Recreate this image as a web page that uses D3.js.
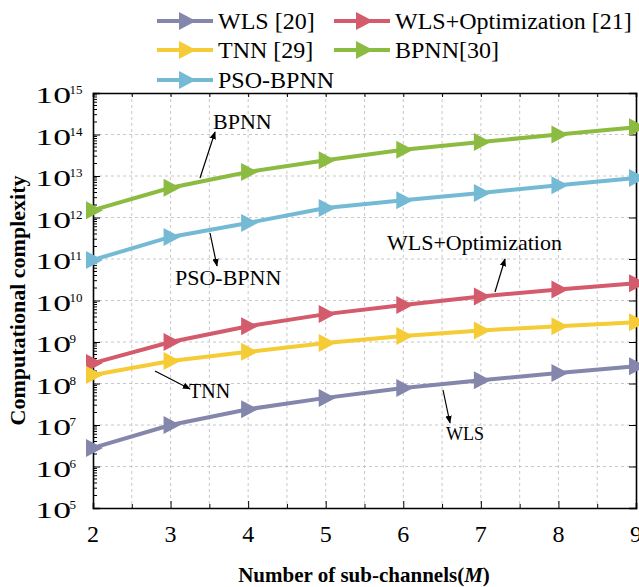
<!DOCTYPE html>
<html>
<head>
<meta charset="utf-8">
<script src="https://cdn.jsdelivr.net/npm/d3@7"></script>
<style>
  body { margin: 0; background: #fff; }
  text { font-family: "Liberation Serif", "DejaVu Serif", serif; }
</style>
</head>
<body>
<div id="chart"></div>
<script>
// sub-channel counts (x)
var mValues = [2, 3, 4, 5, 6, 7, 8, 9];
// computational complexity per method
var wls     = [2.8e6, 1.0e7, 2.4e7, 4.5e7, 7.8e7, 1.2e8, 1.8e8, 2.6e8];
var wlsOpt  = [3.1e8, 1.0e9, 2.4e9, 4.7e9, 7.8e9, 1.25e10, 1.85e10, 2.6e10];
var tnn     = [1.6e8, 3.5e8, 5.8e8, 9.5e8, 1.4e9, 1.9e9, 2.4e9, 3.0e9];
var bpnn    = [1.5e12, 5.2e12, 1.25e13, 2.4e13, 4.3e13, 6.6e13, 1.0e14, 1.5e14];
var psoBpnn = [9.5e10, 3.4e11, 7.4e11, 1.7e12, 2.6e12, 3.9e12, 6.0e12, 9.0e12];

var legendNames = ["WLS [20]", "WLS+Optimization [21]", "TNN [29]", "BPNN[30]", "PSO-BPNN"];
var yExponents = [5, 6, 7, 8, 9, 10, 11, 12, 13, 14, 15];

var series = [
  { name: legendNames[0], color: "#8487ab", values: wls },
  { name: legendNames[1], color: "#d35b6c", values: wlsOpt },
  { name: legendNames[2], color: "#f5cb36", values: tnn },
  { name: legendNames[3], color: "#8cbb42", values: bpnn },
  { name: legendNames[4], color: "#75bad4", values: psoBpnn }
];

var FONT = "'Liberation Serif', 'DejaVu Serif', serif";
var W = 639, H = 587;
var margin = {top: 93, right: 3, bottom: 79, left: 93};
var width = W - margin.left - margin.right,
    height = H - margin.top - margin.bottom;

var svg = d3.select("#chart").append("svg")
    .attr("width", W).attr("height", H)
    .attr("font-family", FONT);

var defs = svg.append("defs");
defs.append("marker")
    .attr("id", "arrow")
    .attr("viewBox", "0 0 10 10")
    .attr("refX", 9).attr("refY", 5)
    .attr("markerWidth", 8).attr("markerHeight", 8)
    .attr("markerUnits", "userSpaceOnUse")
    .attr("orient", "auto")
  .append("path")
    .attr("d", "M0,1 L10,5 L0,9 Z")
    .attr("fill", "#000");

var g = svg.append("g")
    .attr("transform", "translate(" + margin.left + "," + margin.top + ")");

var x = d3.scaleLinear().domain([2, 9]).range([0, width]);
var y = d3.scaleLog().domain([1e5, 1e15]).range([height, 0]);

var halfSteps = d3.range(2, 9.01, 0.5);

// grid
g.append("g").selectAll("line.vg")
  .data(halfSteps.filter(d => d > 2 && d < 9))
  .enter().append("line")
    .attr("x1", d => x(d)).attr("x2", d => x(d))
    .attr("y1", 0).attr("y2", height)
    .attr("stroke", "#c8c8c8").attr("stroke-dasharray", "3,3");
g.append("g").selectAll("line.hg")
  .data(yExponents.filter(e => e > 5 && e < 15))
  .enter().append("line")
    .attr("x1", 0).attr("x2", width)
    .attr("y1", e => y(Math.pow(10, e))).attr("y2", e => y(Math.pow(10, e)))
    .attr("stroke", "#c8c8c8").attr("stroke-dasharray", "3,3");

// y minor ticks
var minor = [];
yExponents.slice(0, -1).forEach(function(e) {
  for (var k = 2; k <= 9; k++) minor.push(k * Math.pow(10, e));
});

var yAxis = g.append("g")
  .call(d3.axisLeft(y).tickValues(yExponents.map(e => Math.pow(10, e)))
        .tickSize(-7).tickFormat(""));
yAxis.append("g").selectAll("line")
  .data(minor).enter().append("line")
    .attr("x1", 0).attr("x2", 4)
    .attr("y1", d => y(d)).attr("y2", d => y(d))
    .attr("stroke", "#000");

var yRight = g.append("g").attr("transform", "translate(" + width + ",0)")
  .call(d3.axisRight(y).tickValues(yExponents.map(e => Math.pow(10, e)))
        .tickSize(-7).tickFormat(""));

var xAxis = g.append("g").attr("transform", "translate(0," + height + ")")
  .call(d3.axisBottom(x).tickValues(halfSteps)
        .tickSize(-5).tickFormat(""));
xAxis.selectAll(".tick line").attr("y2", d => Number.isInteger(d) ? -7 : -4);

var xTop = g.append("g")
  .call(d3.axisTop(x).tickValues(halfSteps)
        .tickSize(-4).tickFormat(""));

[yAxis, yRight, xAxis, xTop].forEach(function(a) {
  a.select(".domain").attr("stroke-width", 1.6);
});

// y tick labels: wide "10" plus superscript exponent
var ylab = g.append("g").selectAll("g")
  .data(yExponents).enter().append("g")
    .attr("transform", e => "translate(0," + y(Math.pow(10, e)) + ")");
ylab.append("text")
    .attr("transform", "translate(-22,10) scale(1.55,1)")
    .attr("text-anchor", "end")
    .attr("font-size", 23)
    .text("10");
ylab.append("text")
    .attr("x", -23.5).attr("y", 1)
    .attr("font-size", 13)
    .text(e => e);

// x tick labels
g.append("g").selectAll("text")
  .data(mValues).enter().append("text")
    .attr("x", d => x(d))
    .attr("y", height + 34)
    .attr("text-anchor", "middle")
    .attr("font-size", 24)
    .text(d => d);

// axis titles
var xt = svg.append("text")
    .attr("x", 364).attr("y", 582)
    .attr("text-anchor", "middle")
    .attr("font-size", 21).attr("font-weight", "bold");
xt.append("tspan").text("Number of sub-channels(");
xt.append("tspan").attr("font-style", "italic").text("M");
xt.append("tspan").text(")");

svg.append("text")
    .attr("transform", "translate(25," + (margin.top + height / 2) + ") rotate(-90)")
    .attr("text-anchor", "middle")
    .attr("font-size", 22).attr("font-weight", "bold")
    .text("Computational complexity");

// series
var line = d3.line()
    .x((d, i) => x(mValues[i]))
    .y(d => y(d));
var tri = "M-7,-9 L10,0 L-7,9 Z";

series.forEach(function(s) {
  g.append("path")
    .datum(s.values)
    .attr("fill", "none")
    .attr("stroke", s.color)
    .attr("stroke-width", 4)
    .attr("d", line);
  g.append("g").selectAll("path")
    .data(s.values).enter().append("path")
      .attr("d", tri)
      .attr("transform", (d, i) => "translate(" + x(mValues[i]) + "," + y(d) + ")")
      .attr("fill", s.color);
});

// legend
var legendPos = [[157, 21], [334, 21], [157, 50], [334, 50], [157, 80]];
series.forEach(function(s, i) {
  var lg = svg.append("g")
    .attr("transform", "translate(" + legendPos[i][0] + "," + legendPos[i][1] + ")");
  lg.append("line").attr("x1", 0).attr("x2", 56)
    .attr("stroke", s.color).attr("stroke-width", 4);
  lg.append("path").attr("d", tri)
    .attr("transform", "translate(29,0)").attr("fill", s.color);
  lg.append("text").attr("x", 61).attr("y", 8)
    .attr("font-size", 24).text(s.name);
});

// annotations
var notes = [
  { text: "BPNN", tx: 213, ty: 129, size: 22, a: [200, 178, 215, 132] },
  { text: "PSO-BPNN", tx: 175, ty: 285, size: 22, a: [210, 233, 217, 266] },
  { text: "WLS+Optimization", tx: 387, ty: 250, size: 22, a: [495, 292, 505, 259] },
  { text: "TNN", tx: 189, ty: 398, size: 20, a: [155, 371, 190, 389] },
  { text: "WLS", tx: 446, ty: 440, size: 18, a: [443, 390, 450, 423] }
];
notes.forEach(function(n) {
  svg.append("line")
    .attr("x1", n.a[0]).attr("y1", n.a[1])
    .attr("x2", n.a[2]).attr("y2", n.a[3])
    .attr("stroke", "#000").attr("stroke-width", 1.2)
    .attr("marker-end", "url(#arrow)");
  svg.append("text").attr("x", n.tx).attr("y", n.ty)
    .attr("font-size", n.size).text(n.text);
});
</script>
</body>
</html>
